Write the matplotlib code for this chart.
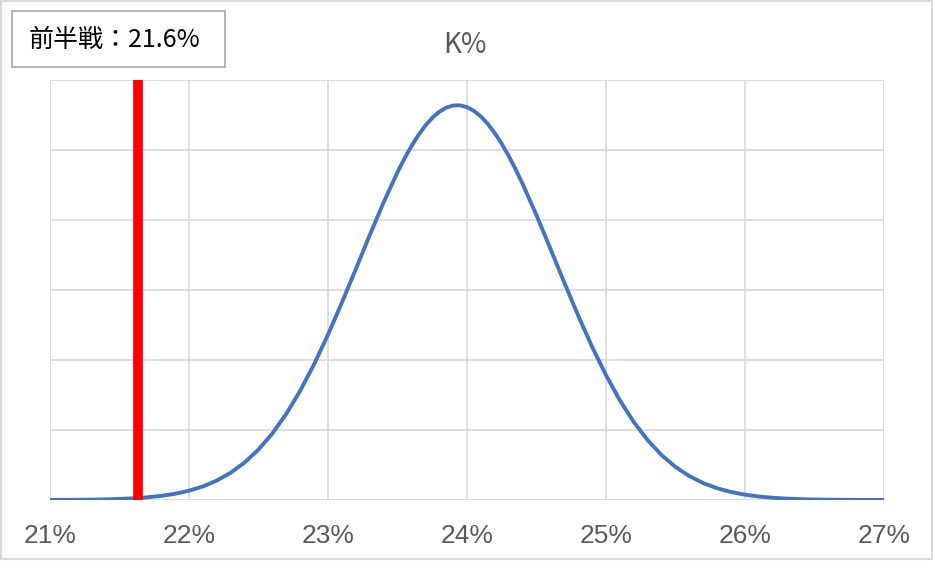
import numpy as np
import matplotlib
matplotlib.use('Agg')
import matplotlib.pyplot as plt
from matplotlib.patches import Rectangle

# K% distribution curve (x in %, y density, gridline step = 10)
k_pct = [21.0, 21.1, 21.2, 21.3, 21.4, 21.5, 21.6, 21.7, 21.8, 21.9,
         22.0, 22.1, 22.2, 22.3, 22.4, 22.5, 22.6, 22.7, 22.8, 22.9,
         23.0, 23.1, 23.2, 23.3, 23.4, 23.5, 23.55, 23.6, 23.65, 23.7, 23.75,
         23.8, 23.85, 23.9, 23.95, 24.0, 24.05, 24.1, 24.15, 24.2, 24.25,
         24.3, 24.35, 24.4, 24.5, 24.6, 24.7, 24.8, 24.9,
         25.0, 25.1, 25.2, 25.3, 25.4, 25.5, 25.6, 25.7, 25.8, 25.9,
         26.0, 26.1, 26.2, 26.3, 26.4, 26.5, 26.6, 26.7, 26.8, 26.9, 27.0]
density = [0.01, 0.02, 0.03, 0.05, 0.09, 0.15, 0.24, 0.38, 0.59, 0.89,
           1.33, 1.94, 2.78, 3.90, 5.35, 7.21, 9.51, 12.31, 15.61, 19.40,
           23.63, 28.20, 32.99, 37.83, 42.51, 46.83, 48.78, 50.55, 52.12, 53.48, 54.59,
           55.45, 56.04, 56.35, 56.38, 56.12, 55.59, 54.78, 53.72, 52.41, 50.88,
           49.15, 47.23, 45.16, 40.68, 35.90, 31.06, 26.34, 21.88,
           17.83, 14.23, 11.13, 8.54, 6.41, 4.72, 3.41, 2.41, 1.67, 1.14,
           0.76, 0.49, 0.32, 0.20, 0.12, 0.07, 0.04, 0.03, 0.01, 0.01, 0.00]
first_half = 21.63
x_ticks = [21, 22, 23, 24, 25, 26, 27]
x_labels = ['21%', '22%', '23%', '24%', '25%', '26%', '27%']
y_ticks = [0, 10, 20, 30, 40, 50, 60]

W, H = 934, 561
fig = plt.figure(figsize=(W / 100, H / 100), dpi=100)
ax = fig.add_axes([50 / W, 1 - 500 / H, 834 / W, 420 / H])

grid_c = '#d9d9d9'
ax.set_xlim(21, 27)
ax.set_ylim(0, 60)
ax.set_xticks(x_ticks)
ax.set_xticklabels(x_labels, fontsize=19, color='#595959', family='Liberation Sans')
ax.set_yticks(y_ticks)
ax.set_yticklabels([])
ax.tick_params(length=0, pad=17)
ax.grid(True, color=grid_c, linewidth=1.2)
ax.set_axisbelow(True)
for s in ax.spines.values():
    s.set_visible(False)

ax.plot(k_pct, density, color='#4472c4', linewidth=2.8, solid_joinstyle='round', zorder=3)
ax.axvline(first_half, color='#ff0000', linewidth=7, zorder=4)

# title
fig.text(465 / W, 1 - 45 / H, 'K%', ha='center', va='center', fontsize=20,
         color='#595959', family=['Noto Sans CJK JP', 'DejaVu Sans'])

# label box
fig.patches.append(Rectangle((12 / W, 1 - 67 / H), 213 / W, 56 / H,
                             transform=fig.transFigure, facecolor='white',
                             edgecolor='#a6a6a6', linewidth=1.2))
fig.text(114 / W, 1 - 40 / H, '前半戦：21.6%', ha='center', va='center', fontsize=18,
         color='black', family=['Noto Sans CJK JP', 'DejaVu Sans'])

# outer border
fig.patches.append(Rectangle((1 / W, 2 / H), (W - 3) / W, (H - 3) / H,
                             transform=fig.transFigure, facecolor='none',
                             edgecolor=grid_c, linewidth=1.5))

fig.savefig('out.png', dpi=100)
